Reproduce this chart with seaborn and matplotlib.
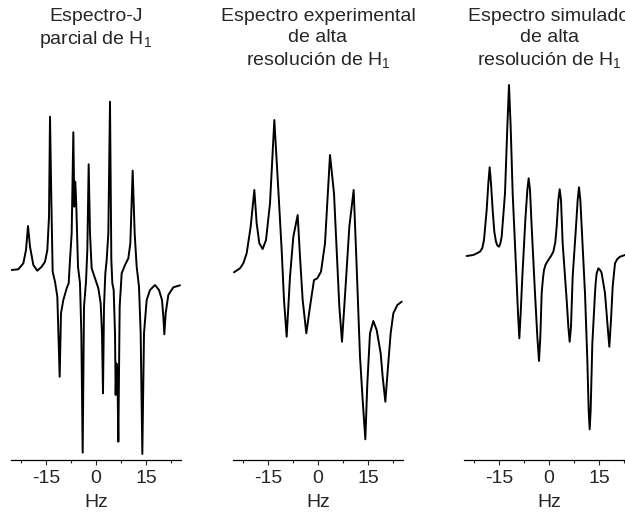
import matplotlib
matplotlib.use('Agg')
import matplotlib.pyplot as plt
import seaborn as sns

sns.set_style('white')
plt.rcParams['font.family'] = ['Liberation Sans', 'DejaVu Sans']
plt.rcParams['mathtext.default'] = 'regular'

# Partial J-spectrum of H1 (Hz, arbitrary intensity)
j_hz = [-25.3, -23.3, -21.8, -21.0, -20.4, -19.8, -18.8, -17.6, -16.3, -15.3,
        -14.6, -14.1, -13.8, -13.4, -13.0, -12.3, -11.6, -10.9, -10.5, -9.8,
        -8.8, -8.2, -7.8, -7.3, -6.8, -6.5, -6.2, -5.9, -5.4, -4.8,
        -4.4, -4.0, -3.6, -3.0, -2.6, -2.2, -1.8, -1.3, -0.3, 0.7,
        1.4, 1.8, 2.1, 2.4, 2.8, 3.2, 3.7, 4.2, 4.6, 4.9,
        5.3, 5.7, 5.9, 6.1, 6.4, 6.7, 7.1, 7.7, 8.7, 9.7,
        10.3, 11.0, 11.6, 12.2, 12.9, 13.4, 13.9, 14.4, 15.2, 16.2,
        17.7, 18.9, 19.8, 20.2, 20.5, 20.9, 21.7, 23.2, 25.2]
j_int = [0, 0.7, 6.7, 20, 44, 23.3, 5, -0.7, 3.3, 8.3,
         20, 53.3, 153.3, 70, -1.7, -11.7, -26.7, -106.7, -43.3, -30,
         -18.3, -13.3, 10, 36.7, 137.7, 63.3, 88.3, 63.3, 3.3, -13.3,
         -63.3, -182.7, -36.7, -11.7, 20, 105.7, 36.7, 1.7, -8.3, -18.3,
         -33.3, -63.3, -123.3, -36.7, -3.3, 10, 36.7, 168.3, 10, -13.3,
         -20, -63.3, -125, -93.3, -96.7, -171.7, -36.7, -3.3, 5, 11.7,
         26.7, 99.3, 36.7, 3.3, -16.7, -63.3, -184, -63.3, -30, -20,
         -15, -20, -30, -46.7, -64.3, -43.3, -25, -17.3, -15.3]

# Experimental high-resolution spectrum of H1
exp_hz = [-25.2, -23.4, -22.4, -21.4, -20.2, -19.1, -18.4, -17.6, -16.6, -15.6,
          -14.4, -13.1, -11.9, -10.9, -10.2, -9.4, -8.4, -7.4, -6.1, -5.4,
          -4.6, -3.5, -2.4, -1.2, -0.2, 0.9, 2.1, 3.6, 4.8, 5.6,
          6.4, 7.2, 8.4, 9.4, 10.7, 11.6, 12.6, 13.4, 14.2, 14.8,
          15.6, 16.6, 17.6, 18.8, 19.4, 20.2, 21.0, 21.8, 22.6, 23.8, 25.1]
exp_int = [-2.3, 1.7, 6.7, 16.7, 43.3, 80, 46.7, 26.7, 21, 30,
           66.7, 150, 80, 20, -30, -66.7, -6.7, 33.3, 55, 13.3,
           -30, -63.3, -36.7, -10, -8.3, -1.7, 26.7, 115, 76.7, 20,
           -36.7, -71.7, -10, 43.3, 80, 3.3, -86.7, -130, -169.3, -113.3,
           -63.3, -51, -60, -83.3, -106.7, -131.7, -96.7, -63.3, -43.3, -35, -31.7]

# Simulated high-resolution spectrum of H1
sim_hz = [-24.7, -22.7, -20.7, -20.0, -19.5, -18.7, -18.2, -17.8, -17.4, -16.9,
          -16.4, -15.9, -15.5, -15.0, -14.6, -14.2, -13.2, -12.5, -12.0, -11.5,
          -10.9, -9.9, -9.3, -8.9, -8.5, -8.0, -7.1, -6.5, -6.1, -5.7,
          -5.2, -4.2, -3.5, -3.0, -2.6, -2.2, -1.8, -1.5, -1.0, -0.2,
          0.6, 1.3, 1.9, 2.3, 2.8, 3.2, 3.6, 4.1, 5.3, 5.8,
          6.2, 6.6, 7.1, 8.1, 8.6, 9.0, 9.4, 9.8, 10.8, 11.5,
          11.9, 12.2, 12.5, 13.0, 13.8, 14.0, 14.3, 14.8, 15.3, 15.6,
          15.8, 16.8, 17.6, 18.1, 18.6, 19.1, 19.8, 20.5, 21.3, 22.8, 25.3]
sim_int = [14, 15, 18.3, 22, 30, 60, 86.7, 102.7, 86.7, 60,
           38, 28.3, 24.5, 23.3, 26.5, 33.3, 76.7, 143.3, 185, 143.3,
           76.7, 3.3, -43.3, -68.3, -43.3, -6.7, 50, 80, 91.7, 80,
           43.3, -23.3, -66.7, -91, -66.7, -23.3, -8, 0, 5.5, 10,
           14, 18.3, 28, 43.3, 70, 80.7, 70, 26.7, -30, -56.7,
           -71.7, -56.7, -6.7, 43.3, 70, 82.7, 70, 43.3, -23.3, -90,
           -140, -159.3, -140, -73.3, -23.3, -13, -3.3, 1.7, 0, -1.5,
           -3.3, -23.3, -56.7, -76.7, -50, -16.7, 6.7, 11, 13.3, 15, 15.7]

titles = ['Espectro-J\nparcial de H$_{1}$',
          'Espectro experimental\nde alta\nresolución de H$_{1}$',
          'Espectro simulado\nde alta\nresolución de H$_{1}$']
major_ticks = [-15, 0, 15]
minor_ticks = [-22.5, -7.5, 7.5, 22.5]

W, H = 625, 513
fig = plt.figure(figsize=(W / 100, H / 100), dpi=100)

series = [(j_hz, j_int), (exp_hz, exp_int), (sim_hz, sim_int)]
lefts = [11, 233, 464]  # axes left edge, px

for (hz, inten), left, title in zip(series, lefts, titles):
    ax = fig.add_axes([left / W, (H - 460) / H, 170 / W, 380 / H])
    sns.lineplot(x=hz, y=inten, ax=ax, color='black', lw=1.4,
                 sort=False, estimator=None)
    ax.set_xlim(-25.5, 25.5)
    ax.set_ylim(-190, 190)
    ax.set_xticks(major_ticks)
    ax.set_xticks(minor_ticks, minor=True)
    ax.set_xticklabels(['-15', '0', '15'])
    ax.set_yticks([])
    ax.tick_params(axis='x', which='major', direction='out', length=3.5,
                   width=0.8, labelsize=14, pad=3.5, bottom=True)
    ax.tick_params(axis='x', which='minor', direction='out', length=1.8,
                   width=0.8, bottom=True)
    ax.set_xlabel('Hz', fontsize=14, labelpad=5)
    ax.set_ylabel('')
    sns.despine(ax=ax, left=True)
    ax.spines['bottom'].set_linewidth(0.9)
    ax.spines['bottom'].set_color('black')
    fig.text((left + 85) / W, 1 - 8 / H, title, ha='center', va='top',
             fontsize=14, linespacing=1.3)

fig.savefig('out.png', dpi=100)
